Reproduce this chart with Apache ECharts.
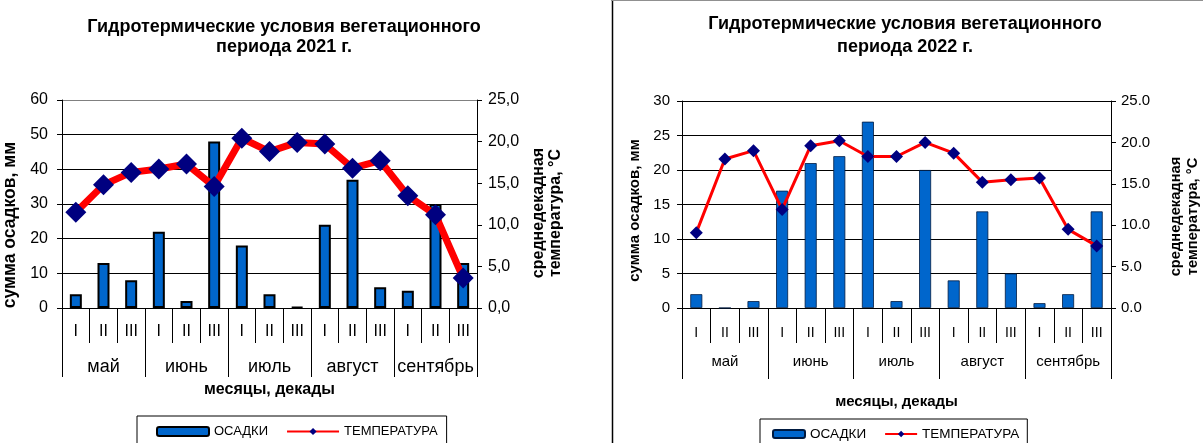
<!DOCTYPE html>
<html>
<head>
<meta charset="utf-8">
<script src="https://cdn.jsdelivr.net/npm/echarts@6/dist/echarts.min.js"></script>
<style>
  html, body { margin: 0; padding: 0; background: #fff; }
  #c1 { position: absolute; left: 0; top: 0; width: 611px; height: 443px; }
  #c2 { position: absolute; left: 611px; top: 0; width: 592px; height: 443px; }
</style>
</head>
<body>
<div id="c1"></div>
<div id="c2"></div>
<script>
// ---- data ----
const decades = ['I','II','III','I','II','III','I','II','III','I','II','III','I','II','III'];
const months = ['май','июнь','июль','август','сентябрь'];
const precip2021 = [4, 13, 8, 22, 2, 48, 18, 4, 0.3, 24, 37, 6, 5, 30, 13];
const temp2021 = [11.5, 14.8, 16.3, 16.7, 17.3, 14.6, 20.4, 18.8, 19.9, 19.7, 16.8, 17.7, 13.5, 11.2, 3.6];
const precip2022 = [2, 0, 1, 17, 21, 22, 27, 1, 20, 4, 14, 5, 0.7, 2, 14];
const temp2022 = [9.1, 18.0, 19.0, 11.9, 19.6, 20.2, 18.3, 18.3, 20.0, 18.7, 15.2, 15.5, 15.7, 9.5, 7.5];
const title2021 = 'Гидротермические условия вегетационного\nпериода 2021 г.';
const title2022 = 'Гидротермические условия вегетационного\nпериода 2022 г.';
const precipName = 'ОСАДКИ';
const tempName = 'ТЕМПЕРАТУРА';
const yLeftName = 'сумма осадков, мм';
const yRightName = 'среднедекадная\nтемпература, °С';
const xName = 'месяцы, декады';

const FONT = 'Arial, "Liberation Sans", sans-serif';

function makeOption(c) {
  return {
    animation: false,
    textStyle: { fontFamily: FONT, color: '#000' },
    title: {
      text: c.title, left: c.titleX, top: c.titleTop, textAlign: 'center', padding: 0,
      textStyle: { fontFamily: FONT, fontSize: c.titleSize, fontWeight: 'bold', color: '#000', lineHeight: c.titleLH }
    },
    graphic: c.graphic || [],
    legend: {
      left: c.legLeft, top: c.legTop, orient: 'horizontal',
      padding: c.legPad, itemGap: c.legGap, itemWidth: c.legIconW, itemHeight: c.legIconH,
      borderColor: '#000', borderWidth: 1, backgroundColor: '#fff',
      textStyle: { fontFamily: FONT, fontSize: c.legFont, color: '#000' },
      data: [precipName, tempName]
    },
    grid: { left: c.gl, right: c.gr, top: c.gt, bottom: c.gb, containLabel: false, outerBoundsMode: 'none' },
    xAxis: [
      {
        type: 'category', data: decades, position: 'bottom',
        axisLine: { show: true, onZero: false, lineStyle: { color: '#000', width: 1 } },
        axisTick: { show: true, interval: 0, length: c.decTick, lineStyle: { color: '#000', width: 1 } },
        axisLabel: { interval: 0, margin: c.decMargin, fontSize: c.decFont, color: '#000', fontFamily: FONT },
        splitLine: { show: false }
      },
      {
        type: 'category', data: months, position: 'bottom',
        axisLine: { show: false },
        axisTick: { show: true, interval: 0, length: c.monTick, lineStyle: { color: '#000', width: 1 } },
        axisLabel: { interval: 0, margin: c.monMargin, fontSize: c.monFont, color: '#000', fontFamily: FONT },
        splitLine: { show: false },
        name: xName, nameLocation: 'middle', nameGap: c.xNameGap,
        nameTextStyle: { fontFamily: FONT, fontSize: c.xNameFont, fontWeight: 'bold', color: '#000' }
      }
    ],
    yAxis: [
      {
        type: 'value', min: 0, max: c.pMax, interval: c.pInt, position: 'left',
        axisLine: { show: true, lineStyle: { color: '#000', width: 1 } },
        axisTick: { show: true, length: 5, lineStyle: { color: '#000' } },
        axisLabel: { margin: c.yLabMargin, fontSize: c.tickFont, color: '#000', fontFamily: FONT },
        splitLine: { show: true, lineStyle: { color: c.gridColors, width: 1 } },
        name: yLeftName, nameLocation: 'middle', nameRotate: 90, nameGap: c.yLeftGap,
        nameTextStyle: { fontFamily: FONT, fontSize: c.yLeftFont, fontWeight: 'bold', color: '#000', padding: c.yLeftPad }
      },
      {
        type: 'value', min: 0, max: 25, interval: 5, position: 'right',
        axisLine: { show: true, lineStyle: { color: '#000', width: 1 } },
        axisTick: { show: true, length: 5, lineStyle: { color: '#000' } },
        axisLabel: {
          margin: c.yRLabMargin, fontSize: c.tickFont, color: '#000', fontFamily: FONT,
          formatter: v => v.toFixed(1).replace('.', c.dec)
        },
        splitLine: { show: false },
        name: yRightName, nameLocation: 'middle', nameRotate: 90, nameGap: c.yRightGap,
        nameTextStyle: { fontFamily: FONT, fontSize: c.yRightFont, fontWeight: 'bold', color: '#000', lineHeight: c.yRightLH, padding: c.yRightPad }
      }
    ],
    series: [
      {
        type: 'bar', name: precipName, data: c.precip, xAxisIndex: 0, yAxisIndex: 0,
        barWidth: c.barW,
        itemStyle: { color: '#0066CC', borderColor: c.barBorder, borderWidth: c.barBorderW }
      },
      {
        type: 'line', name: tempName, data: c.temp, xAxisIndex: 0, yAxisIndex: 1,
        symbol: 'diamond', symbolSize: c.symSize,
        lineStyle: { color: '#FF0000', width: c.lineW },
        itemStyle: { color: '#000080' }, z: 5
      }
    ]
  };
}

const chart1 = echarts.init(document.getElementById('c1'), null, { renderer: 'canvas' });
chart1.setOption(makeOption({
  title: title2021, titleX: 284, titleTop: 17, titleSize: 18, titleLH: 20,
  legLeft: 137, legTop: 416, legPad: [9, 9, 9, 19], legGap: 18, legIconW: 52, legIconH: 9, legFont: 13,
  gl: 62, gr: 134, gt: 100, gb: 135,
  decTick: 35, decMargin: 16, decFont: 16,
  monTick: 69, monMargin: 50, monFont: 18,
  xNameGap: 74, xNameFont: 16,
  pMax: 60, pInt: 10, tickFont: 16, yLabMargin: 14, yRLabMargin: 11,
  gridColors: ['#000', '#000', '#000', '#000', '#000', '#000', '#808080'],
  yLeftGap: 36, yLeftFont: 17.5, yLeftPad: [0, 42, 0, 0],
  yRightGap: 48, yRightFont: 16, yRightLH: 17, yRightPad: [0, 18, 0, 0],
  dec: ',',
  precip: precip2021, temp: temp2021,
  barW: 12, barBorder: '#000', barBorderW: 2,
  symSize: 21, lineW: 7
}));

const chart2 = echarts.init(document.getElementById('c2'), null, { renderer: 'canvas' });
chart2.setOption(makeOption({
  title: title2022, titleX: 294, titleTop: 13, titleSize: 18, titleLH: 23,
  legLeft: 149, legTop: 419, legPad: [8, 8, 8, 12], legGap: 18, legIconW: 32, legIconH: 8, legFont: 13.5,
  gl: 71, gr: 92, gt: 101, gb: 135,
  decTick: 35, decMargin: 18, decFont: 14,
  monTick: 71, monMargin: 46, monFont: 15,
  xNameGap: 86, xNameFont: 15,
  pMax: 30, pInt: 5, tickFont: 15, yLabMargin: 12, yRLabMargin: 10,
  gridColors: ['#000'],
  yLeftGap: 27, yLeftFont: 15, yLeftPad: [0, 12, 0, 0],
  yRightGap: 56, yRightFont: 14.7, yRightLH: 17, yRightPad: [0, 24, 0, 0],
  dec: '.',
  precip: precip2022, temp: temp2022,
  barW: 12, barBorder: '#001a40', barBorderW: 0.8,
  symSize: 13, lineW: 3,
  graphic: [
    { type: 'line', shape: { x1: 1.5, y1: 0, x2: 1.5, y2: 443 }, style: { stroke: '#000', lineWidth: 1.5 }, silent: true },
    { type: 'line', shape: { x1: 0, y1: 0.5, x2: 592, y2: 0.5 }, style: { stroke: '#909090', lineWidth: 1 }, silent: true }
  ]
}));
</script>
</body>
</html>
